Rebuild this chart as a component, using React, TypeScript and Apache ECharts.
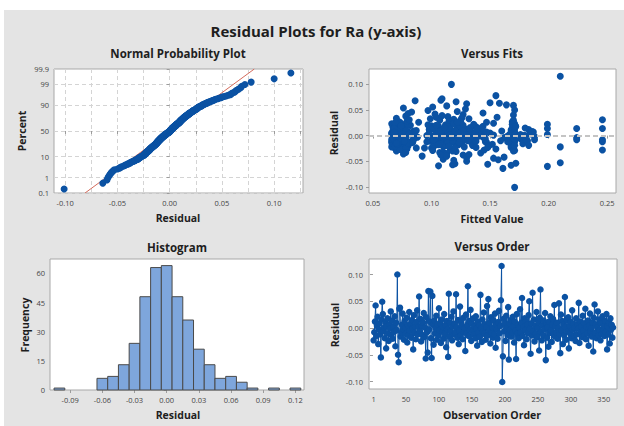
import React, { useEffect, useRef } from "react";
import * as echarts from "echarts";

// Residuals in observation order
const residuals = [
  -0.023, -0.008, 0.012, 0.042, -0.015, 0.004, 0.021, -0.030, -0.002, 0.009, -0.012, -0.055, 0.016, 0.049,
  0.026, -0.006, 0.001, -0.019, 0.011, -0.038, 0.003, 0.018, -0.010, -0.024, 0.007, -0.001, 0.031, -0.013,
  0.014, -0.020, 0.002, -0.007, 0.022, -0.034, 0.010, -0.004, 0.100, -0.050, -0.064, 0.036, 0.038, -0.016,
  -0.009, 0.006, 0.027, -0.003, -0.022, 0.013, 0.000, -0.011, 0.019, -0.027, 0.005, -0.014, 0.030, -0.005,
  0.008, -0.018, 0.015, -0.001, -0.040, 0.024, -0.009, 0.003, -0.021, 0.011, 0.033, -0.012, 0.002, 0.059,
  -0.006, 0.017, -0.025, 0.004, -0.013, 0.010, 0.028, -0.017, 0.001, -0.057, 0.020, -0.008, -0.046, 0.069,
  -0.003, 0.012, 0.068, -0.019, -0.056, 0.060, 0.006, -0.031, 0.014, -0.010, 0.000, 0.023, -0.022, 0.007,
  -0.014, 0.037, -0.004, 0.009, -0.028, 0.016, -0.007, 0.002, -0.020, 0.026, -0.011, 0.005, -0.036, 0.013,
  -0.002, -0.054, 0.064, -0.016, 0.010, -0.006, 0.021, -0.023, 0.003, 0.031, -0.012, 0.008, -0.009, 0.063,
  0.001, -0.018, 0.015, -0.030, -0.005, 0.040, -0.013, 0.011, 0.004, -0.021, 0.019, -0.008, 0.000, -0.043,
  0.025, -0.010, 0.006, 0.078, -0.015, 0.013, -0.003, 0.034, -0.024, 0.009, -0.007, 0.018, -0.012, 0.003,
  -0.019, 0.022, -0.001, -0.033, 0.012, -0.009, 0.005, -0.017, 0.062, 0.000, -0.026, 0.016, -0.006, 0.029,
  -0.011, 0.007, -0.022, 0.002, 0.041, -0.014, 0.054, -0.004, 0.010, -0.029, 0.020, -0.008, 0.001, -0.018,
  0.014, -0.012, 0.027, -0.037, 0.006, -0.002, -0.020, 0.011, 0.032, -0.010, 0.004, 0.052, 0.116, -0.101,
  -0.053, 0.017, -0.006, 0.008, -0.024, 0.023, 0.000, -0.013, 0.039, -0.059, 0.009, -0.003, 0.015, -0.016,
  -0.009, 0.021, 0.003, -0.027, 0.012, -0.005, -0.058, 0.026, -0.011, 0.006, -0.019, 0.001, 0.035, -0.008,
  0.010, 0.056, -0.015, 0.002, -0.032, 0.018, -0.004, 0.013, -0.021, 0.007, -0.010, 0.024, 0.050, -0.001,
  -0.048, 0.009, -0.014, 0.066, -0.006, 0.016, -0.025, 0.004, -0.011, 0.030, -0.017, 0.000, 0.011, -0.042,
  0.019, 0.072, -0.007, -0.023, 0.005, -0.013, 0.014, -0.002, 0.028, -0.060, 0.008, -0.018, 0.001, -0.035,
  0.012, -0.009, 0.022, -0.004, -0.026, 0.006, 0.017, -0.012, 0.043, -0.016, 0.003, -0.008, 0.010, -0.020,
  0.000, 0.046, -0.011, -0.047, 0.025, -0.005, 0.013, -0.030, 0.007, -0.014, 0.058, 0.002, -0.022, 0.015,
  -0.007, 0.020, -0.038, 0.004, -0.010, 0.011, -0.019, 0.033, -0.003, 0.008, -0.015, 0.001, -0.024, 0.018,
  -0.012, 0.006, -0.001, 0.047, -0.028, 0.012, -0.008, 0.003, -0.017, 0.023, -0.005, 0.009, -0.013, 0.036,
  -0.021, 0.002, -0.010, 0.014, -0.033, 0.005, 0.027, -0.006, 0.000, -0.016, 0.010, -0.044, 0.019, 0.044,
  -0.009, 0.007, -0.019, 0.001, 0.031, -0.013, 0.016, -0.004, -0.023, 0.009, -0.011, 0.022, -0.002, 0.004,
  -0.015, 0.013, -0.007, 0.026, -0.040, 0.003, -0.012, 0.010, -0.029, 0.018, -0.003, 0.006, -0.018, 0.001,
];

// Fitted values, same order
const fits = [
  0.068, 0.246, 0.074, 0.103, 0.079, 0.066, 0.112, 0.070, 0.125, 0.085, 0.246, 0.120, 0.139, 0.097,
  0.073, 0.101, 0.145, 0.076, 0.168, 0.127, 0.071, 0.106, 0.182, 0.094, 0.115, 0.067, 0.246, 0.134,
  0.246, 0.080, 0.199, 0.069, 0.199, 0.142, 0.123, 0.224, 0.117, 0.130, 0.161, 0.104, 0.078, 0.170,
  0.075, 0.111, 0.169, 0.088, 0.066, 0.129, 0.179, 0.072, 0.100, 0.116, 0.150, 0.083, 0.107, 0.137,
  0.070, 0.121, 0.077, 0.165, 0.092, 0.118, 0.068, 0.184, 0.110, 0.074, 0.132, 0.146, 0.079, 0.170,
  0.113, 0.067, 0.170, 0.124, 0.081, 0.141, 0.071, 0.104, 0.153, 0.118, 0.127, 0.224, 0.110, 0.108,
  0.069, 0.098, 0.086, 0.135, 0.148, 0.164, 0.076, 0.121, 0.224, 0.171, 0.102, 0.066, 0.210, 0.187,
  0.126, 0.114, 0.078, 0.160, 0.246, 0.072, 0.119, 0.143, 0.168, 0.089, 0.105, 0.131, 0.076, 0.122,
  0.108, 0.172, 0.150, 0.069, 0.115, 0.176, 0.097, 0.138, 0.070, 0.125, 0.171, 0.080, 0.112, 0.158,
  0.133, 0.073, 0.106, 0.118, 0.067, 0.170, 0.147, 0.077, 0.171, 0.102, 0.137, 0.084, 0.180, 0.130,
  0.120, 0.068, 0.109, 0.155, 0.116, 0.171, 0.127, 0.070, 0.087, 0.144, 0.073, 0.124, 0.168, 0.105,
  0.111, 0.075, 0.140, 0.107, 0.183, 0.121, 0.066, 0.152, 0.130, 0.096, 0.079, 0.169, 0.128, 0.115,
  0.099, 0.171, 0.074, 0.113, 0.127, 0.068, 0.076, 0.162, 0.104, 0.171, 0.082, 0.136, 0.118, 0.123,
  0.199, 0.107, 0.072, 0.132, 0.185, 0.077, 0.149, 0.069, 0.119, 0.159, 0.110, 0.129, 0.210, 0.171,
  0.210, 0.114, 0.070, 0.134, 0.100, 0.171, 0.086, 0.126, 0.109, 0.106, 0.067, 0.144, 0.075, 0.178,
  0.117, 0.080, 0.167, 0.073, 0.103, 0.131, 0.168, 0.147, 0.066, 0.120, 0.112, 0.071, 0.126, 0.188,
  0.078, 0.101, 0.123, 0.171, 0.110, 0.069, 0.102, 0.142, 0.170, 0.128, 0.074, 0.153, 0.171, 0.115,
  0.119, 0.106, 0.066, 0.121, 0.179, 0.133, 0.078, 0.068, 0.138, 0.170, 0.115, 0.072, 0.125, 0.162,
  0.122, 0.109, 0.085, 0.168, 0.118, 0.070, 0.101, 0.188, 0.079, 0.199, 0.133, 0.102, 0.067, 0.113,
  0.071, 0.127, 0.136, 0.073, 0.155, 0.117, 0.171, 0.096, 0.080, 0.123, 0.140, 0.181, 0.110, 0.069,
  0.124, 0.083, 0.114, 0.157, 0.069, 0.076, 0.116, 0.170, 0.147, 0.105, 0.113, 0.070, 0.128, 0.180,
  0.066, 0.104, 0.108, 0.137, 0.118, 0.072, 0.171, 0.099, 0.111, 0.186, 0.080, 0.129, 0.120, 0.144,
  0.073, 0.125, 0.067, 0.122, 0.145, 0.112, 0.103, 0.081, 0.071, 0.119, 0.169, 0.108, 0.084, 0.156,
  0.115, 0.176, 0.131, 0.068, 0.078, 0.098, 0.125, 0.146, 0.070, 0.107, 0.120, 0.153, 0.074, 0.144,
  0.102, 0.069, 0.183, 0.116, 0.081, 0.124, 0.111, 0.067, 0.148, 0.127, 0.077, 0.169, 0.109, 0.123,
  0.070, 0.139, 0.171, 0.122, 0.113, 0.075, 0.165, 0.087, 0.101, 0.172, 0.117, 0.068, 0.106, 0.130,
];

// Histogram (bin centres and frequencies)
const histBinCenters = [-0.10, -0.06, -0.05, -0.04, -0.03, -0.02, -0.01, 0.00, 0.01, 0.02, 0.03, 0.04, 0.05, 0.06, 0.07, 0.08, 0.10, 0.12];
const histCounts = [1, 6, 7, 13, 24, 48, 63, 64, 48, 36, 21, 13, 6, 7, 4, 1, 1, 1];
const BIN_WIDTH = 0.01;

// Fitted normal line on probability plot (residual at 0.1% and 99.9%)
const nppLineResid = [-0.081, 0.081];
const nppLinePct = [0.1, 99.9];

// Tick labels
const pctTicks = [0.1, 1, 10, 50, 90, 99, 99.9];
const pctLabels = ["0.1", "1", "10", "50", "90", "99", "99.9"];
const residTicks = [-0.10, -0.05, 0.00, 0.05, 0.10];
const nppGridX = [-0.10, -0.075, -0.05, -0.025, 0, 0.025, 0.05, 0.075, 0.10, 0.125];
const fitTicks = [0.05, 0.10, 0.15, 0.20, 0.25];
const histXTicks = [-0.09, -0.06, -0.03, 0.00, 0.03, 0.06, 0.09, 0.12];
const histYTicks = [0, 15, 30, 45, 60];
const orderTicks = [1, 50, 100, 150, 200, 250, 300, 350];

const FONT = '"Open Sans", "Noto Sans", sans-serif';
const BLUE = "#0b52a3";

function invNorm(p: number): number {
  const a = [-3.969683028665376e1, 2.209460984245205e2, -2.759285104469687e2, 1.38357751867269e2, -3.066479806614716e1, 2.506628277459239];
  const b = [-5.447609879822406e1, 1.615858368580409e2, -1.556989798598866e2, 6.680131188771972e1, -1.328068155288572e1];
  const c = [-7.784894002430293e-3, -3.223964580411365e-1, -2.400758277161838, -2.549732539343734, 4.374664141464968, 2.938163982698783];
  const d = [7.784695709041462e-3, 3.224671290700398e-1, 2.445134137142996, 3.754408661907416];
  const pl = 0.02425;
  if (p < pl) {
    const q = Math.sqrt(-2 * Math.log(p));
    return (((((c[0] * q + c[1]) * q + c[2]) * q + c[3]) * q + c[4]) * q + c[5]) / ((((d[0] * q + d[1]) * q + d[2]) * q + d[3]) * q + 1);
  }
  if (p <= 1 - pl) {
    const q = p - 0.5;
    const r = q * q;
    return ((((((a[0] * r + a[1]) * r + a[2]) * r + a[3]) * r + a[4]) * r + a[5]) * q) / (((((b[0] * r + b[1]) * r + b[2]) * r + b[3]) * r + b[4]) * r + 1);
  }
  const q = Math.sqrt(-2 * Math.log(1 - p));
  return -(((((c[0] * q + c[1]) * q + c[2]) * q + c[3]) * q + c[4]) * q + c[5]) / ((((d[0] * q + d[1]) * q + d[2]) * q + d[3]) * q + 1);
}

export default function App() {
  const ref = useRef<HTMLDivElement>(null);

  useEffect(() => {
    if (!ref.current) return;
    const chart = echarts.init(ref.current, undefined, { renderer: "svg" });

    const n = residuals.length;
    const sorted = residuals.slice().sort((x, y) => x - y);
    const nppData = sorted.map((r, i) => [r, invNorm((i + 1 - 0.3) / (n + 0.4))]);
    const zTicks = pctTicks.map((p) => invNorm(p / 100));
    const zMin = zTicks[0];
    const zMax = zTicks[zTicks.length - 1];
    const fitData = residuals.map((r, i) => [fits[i], r]);
    const orderData = residuals.map((r, i) => [i + 1, r]);
    const histData = histBinCenters.map((x, i) => [x, histCounts[i]]);
    const lineData = nppLineResid.map((r, i) => [r, invNorm(nppLinePct[i] / 100)]);

    const lbl = { fontSize: 7.5, color: "#444444", fontFamily: FONT };
    const tick = { show: true, length: 3, lineStyle: { color: "#9c9c9c" } };
    const gridBase = { show: true, backgroundColor: "#ffffff", borderColor: "#a8a8a8", borderWidth: 1, outerBoundsMode: "none" };
    const f2 = (v: number) => v.toFixed(2);

    const txt = (x: number, y: number, text: string, size: number, rot = 0) => ({
      type: "text",
      x,
      y,
      rotation: rot,
      style: { text, fontSize: size, fontWeight: "bold", fontFamily: FONT, fill: "#1e1e1e", align: "center", verticalAlign: "middle" },
      z: 10,
    });

    chart.setOption({
      animation: false,
      backgroundColor: "#ffffff",
      graphic: [
        { type: "rect", shape: { x: 4, y: 10, width: 620, height: 416 }, style: { fill: "#e4e4e4" }, z: -10 },
        txt(316, 31, "Residual Plots for Ra (y-axis)", 15),
        txt(178, 53, "Normal Probability Plot", 11.5),
        txt(492, 53, "Versus Fits", 11.5),
        txt(177, 247, "Histogram", 11.5),
        txt(492, 246, "Versus Order", 11.5),
        txt(178, 218, "Residual", 10.5),
        txt(492, 219, "Fitted Value", 10.5),
        txt(178, 415, "Residual", 10.5),
        txt(492, 415, "Observation Order", 10.5),
        txt(22, 131, "Percent", 10.5, Math.PI / 2),
        txt(334, 133, "Residual", 10.5, Math.PI / 2),
        txt(25, 325, "Frequency", 10.5, Math.PI / 2),
        txt(335, 325, "Residual", 10.5, Math.PI / 2),
      ],
      grid: [
        { ...gridBase, left: 54, top: 69, width: 249, height: 124 },
        { ...gridBase, left: 369, top: 69, width: 247, height: 124 },
        { ...gridBase, left: 50, top: 259, width: 254, height: 131 },
        { ...gridBase, left: 369, top: 259, width: 248, height: 130 },
      ],
      xAxis: [
        {
          type: "value", gridIndex: 0, min: -0.1107, max: 0.1276,
          axisLine: { show: false },
          axisTick: { ...tick, customValues: nppGridX },
          axisLabel: { ...lbl, margin: 6, customValues: residTicks, formatter: f2 },
          splitLine: { show: true, lineStyle: { color: "#d4d4d4", type: [4, 3] } },
        },
        {
          type: "value", gridIndex: 1, min: 0.0466, max: 0.2576,
          axisLine: { show: false },
          axisTick: { ...tick, customValues: fitTicks },
          axisLabel: { ...lbl, margin: 6, customValues: fitTicks, formatter: f2 },
          splitLine: { show: false },
        },
        {
          type: "value", gridIndex: 2, min: -0.1088, max: 0.128,
          axisLine: { show: false },
          axisTick: { ...tick, customValues: histXTicks },
          axisLabel: { ...lbl, margin: 6, customValues: histXTicks, formatter: f2 },
          splitLine: { show: false },
        },
        {
          type: "value", gridIndex: 3, min: -6, max: 370,
          axisLine: { show: false },
          axisTick: { ...tick, customValues: orderTicks },
          axisLabel: { ...lbl, margin: 6, customValues: orderTicks },
          splitLine: { show: false },
        },
      ],
      yAxis: [
        {
          type: "value", gridIndex: 0, min: zMin, max: zMax,
          axisLine: { show: false },
          axisTick: { ...tick, customValues: zTicks },
          axisLabel: {
            ...lbl, margin: 5, customValues: zTicks,
            formatter: (v: number) => {
              let best = 0;
              zTicks.forEach((z, i) => { if (Math.abs(z - v) < Math.abs(zTicks[best] - v)) best = i; });
              return pctLabels[best];
            },
          },
          splitLine: { show: true, lineStyle: { color: "#d4d4d4", type: [4, 3] } },
        },
        {
          type: "value", gridIndex: 1, min: -0.112, max: 0.13,
          axisLine: { show: false },
          axisTick: { ...tick, customValues: residTicks },
          axisLabel: { ...lbl, margin: 6, customValues: residTicks, formatter: f2 },
          splitLine: { show: false },
        },
        {
          type: "value", gridIndex: 2, min: 0, max: 67.4,
          axisLine: { show: false },
          axisTick: { ...tick, customValues: histYTicks },
          axisLabel: { ...lbl, margin: 5, customValues: histYTicks },
          splitLine: { show: false },
        },
        {
          type: "value", gridIndex: 3, min: -0.114, max: 0.129,
          axisLine: { show: false },
          axisTick: { ...tick, customValues: residTicks },
          axisLabel: { ...lbl, margin: 6, customValues: residTicks, formatter: f2 },
          splitLine: { show: false },
        },
      ],
      series: [
        {
          type: "line", xAxisIndex: 0, yAxisIndex: 0, data: lineData, symbol: "none",
          lineStyle: { color: "#d36b5c", width: 1 }, z: 2, silent: true,
        },
        {
          type: "scatter", xAxisIndex: 0, yAxisIndex: 0, data: nppData, symbolSize: 7,
          itemStyle: { color: BLUE, opacity: 1 }, z: 3,
        },
        {
          type: "scatter", xAxisIndex: 1, yAxisIndex: 1, data: fitData, symbolSize: 7,
          itemStyle: { color: BLUE, opacity: 1 }, z: 3,
          markLine: {
            silent: true, symbol: "none", label: { show: false },
            lineStyle: { color: "#c4c4c4", type: [5, 3], width: 2 },
            data: [{ yAxis: 0 }],
          },
        },
        {
          type: "custom", xAxisIndex: 2, yAxisIndex: 2, data: histData,
          renderItem: (params: any, api: any) => {
            const x = api.value(0);
            const c = api.value(1);
            if (!c) return { type: "group", children: [] };
            const p0 = api.coord([x - BIN_WIDTH / 2, c]);
            const p1 = api.coord([x + BIN_WIDTH / 2, 0]);
            return {
              type: "rect",
              shape: { x: p0[0], y: p0[1], width: p1[0] - p0[0], height: p1[1] - p0[1] },
              style: { fill: "#7ea6dc", stroke: "#4a4a4a", lineWidth: 1 },
            };
          },
        },
        {
          type: "line", xAxisIndex: 3, yAxisIndex: 3, data: orderData, symbol: "circle", symbolSize: 6.5,
          itemStyle: { color: BLUE }, lineStyle: { color: BLUE, width: 1 }, z: 3,
        },
      ],
    });

    return () => chart.dispose();
  }, []);

  return <div ref={ref} style={{ position: "fixed", left: 0, top: 0, width: 624, height: 426 }} />;
}
